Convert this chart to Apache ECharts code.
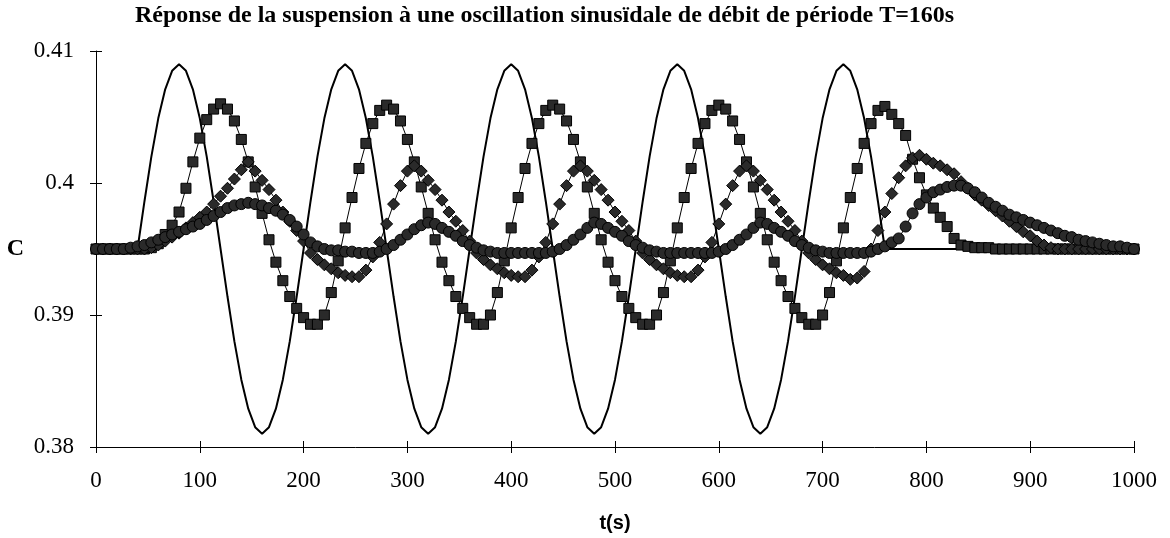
<!DOCTYPE html>
<html><head><meta charset="utf-8">
<script src="https://cdn.jsdelivr.net/npm/echarts@6/dist/echarts.min.js"></script>
<style>html,body{margin:0;padding:0;background:#fff}#c{width:1170px;height:538px}</style>
</head><body><div id="c"></div>
<script>
const chartTitle = 'Réponse de la suspension à une oscillation sinusïdale de débit de période T=160s';
const yName = 'C';
const xName = 't(s)';

// sampling times (s)
const times = [
0,6.67,13.33,20,26.67,33.33,40,46.67,53.33,60,66.67,73.33,80,86.67,93.33,
100,106.67,113.33,120,126.67,133.33,140,146.67,153.33,160,166.67,173.33,180,186.67,193.33,
200,206.67,213.33,220,226.67,233.33,240,246.67,253.33,260,266.67,273.33,280,286.67,293.33,
300,306.67,313.33,320,326.67,333.33,340,346.67,353.33,360,366.67,373.33,380,386.67,393.33,
400,406.67,413.33,420,426.67,433.33,440,446.67,453.33,460,466.67,473.33,480,486.67,493.33,
500,506.67,513.33,520,526.67,533.33,540,546.67,553.33,560,566.67,573.33,580,586.67,593.33,
600,606.67,613.33,620,626.67,633.33,640,646.67,653.33,660,666.67,673.33,680,686.67,693.33,
700,706.67,713.33,720,726.67,733.33,740,746.67,753.33,760,766.67,773.33,780,786.67,793.33,
800,806.67,813.33,820,826.67,833.33,840,846.67,853.33,860,866.67,873.33,880,886.67,893.33,
900,906.67,913.33,920,926.67,933.33,940,946.67,953.33,960,966.67,973.33,980,986.67,993.33,
1000];

// input concentration (solid line)
const inputC = [
.395,.395,.395,.395,.395,.395,.3950,.3986,.4020,.4049,.4071,.4085,.4090,.4085,.4071,
.4049,.4020,.3986,.3950,.3914,.3880,.3851,.3829,.3815,.3810,.3815,.3829,.3851,.3880,.3914,
.3950,.3986,.4020,.4049,.4071,.4085,.4090,.4085,.4071,.4049,.4020,.3986,.3950,.3914,.3880,
.3851,.3829,.3815,.3810,.3815,.3829,.3851,.3880,.3914,.3950,.3986,.4020,.4049,.4071,.4085,
.4090,.4085,.4071,.4049,.4020,.3986,.3950,.3914,.3880,.3851,.3829,.3815,.3810,.3815,.3829,
.3851,.3880,.3914,.3950,.3986,.4020,.4049,.4071,.4085,.4090,.4085,.4071,.4049,.4020,.3986,
.3950,.3914,.3880,.3851,.3829,.3815,.3810,.3815,.3829,.3851,.3880,.3914,.3950,.3986,.4020,
.4049,.4071,.4085,.4090,.4085,.4071,.4049,.4020,.3986,.3950,.395,.395,.395,.395,.395,
.395,.395,.395,.395,.395,.395,.395,.395,.395,.395,.395,.395,.395,.395,.395,
.395,.395,.395,.395,.395,.395,.395,.395,.395,.395,.395,.395,.395,.395,.395,
.395];

// response, square markers
const squaresC = [
.3950,.3950,.3950,.3950,.3950,.3950,.3950,.3950,.3951,.3954,.3961,.3968,.3978,.3996,.4016,
.4034,.4048,.4056,.4060,.4056,.4047,.4033,.4016,.3997,.3977,.3957,.3940,.3926,.3914,.3905,
.3898,.3893,.3893,.3900,.3917,.3941,.3966,.3989,.4011,.4030,.4045,.4055,.4059,.4056,.4047,
.4033,.4016,.3997,.3977,.3957,.3940,.3926,.3914,.3905,.3898,.3893,.3893,.3900,.3917,.3941,
.3966,.3989,.4011,.4030,.4045,.4055,.4059,.4056,.4047,.4033,.4016,.3997,.3977,.3957,.3940,
.3926,.3914,.3905,.3898,.3893,.3893,.3900,.3917,.3941,.3966,.3989,.4011,.4030,.4045,.4055,
.4059,.4056,.4047,.4033,.4016,.3997,.3977,.3957,.3940,.3926,.3914,.3905,.3898,.3893,.3893,
.3900,.3917,.3941,.3966,.3989,.4011,.4030,.4045,.4055,.4058,.4052,.4045,.4036,.4018,.4004,
.3991,.3981,.3974,.3967,.3958,.3953,.3952,.3951,.3951,.3951,.3950,.3950,.3950,.3950,.3950,
.3950,.3950,.3950,.3950,.3950,.3950,.3950,.3950,.3950,.3950,.3950,.3950,.3950,.3950,.3950,
.3950];

// response, diamond markers
const diamondsC = [
.3950,.3950,.3950,.3950,.3950,.3950,.3950,.3950,.3951,.3953,.3956,.3959,.3962,.3966,.3970,
.3974,.3978,.3984,.3990,.3996,.4003,.4010,.4016,.4009,.4002,.3995,.3987,.3978,.3971,.3964,
.3956,.3947,.3942,.3938,.3935,.3932,.3930,.3929,.3929,.3934,.3944,.3955,.3969,.3984,.3998,
.4009,.4013,.4009,.4002,.3995,.3987,.3978,.3971,.3964,.3956,.3947,.3942,.3938,.3935,.3932,
.3930,.3929,.3929,.3934,.3944,.3955,.3969,.3984,.3998,.4009,.4013,.4009,.4002,.3995,.3987,
.3978,.3971,.3964,.3956,.3947,.3942,.3938,.3935,.3932,.3930,.3929,.3929,.3934,.3944,.3955,
.3969,.3984,.3998,.4009,.4013,.4009,.4002,.3995,.3987,.3978,.3971,.3964,.3956,.3947,.3942,
.3938,.3935,.3932,.3930,.3927,.3928,.3933,.3950,.3964,.3978,.3992,.4004,.4013,.4019,.4021,
.4018,.4015,.4013,.4010,.4007,.4001,.3996,.3991,.3987,.3983,.3979,.3975,.3971,.3967,.3963,
.3960,.3956,.3953,.3951,.3950,.3950,.3950,.3950,.3950,.3950,.3950,.3950,.3950,.3950,.3950,
.3950];

// response, circle markers
const circlesC = [
.3950,.3950,.3950,.3950,.3950,.3951,.3952,.3953,.3955,.3957,.3959,.3961,.3963,.3965,.3967,
.3969,.3972,.3975,.3978,.3981,.3983,.3984,.3985,.3984,.3983,.3981,.3979,.3976,.3972,.3967,
.3961,.3955,.3952,.3950,.3949,.3949,.3948,.3948,.3947,.3947,.3947,.3948,.3950,.3953,.3957,
.3961,.3965,.3968,.3970,.3969,.3966,.3963,.3960,.3956,.3953,.3951,.3949,.3948,.3947,.3947,
.3947,.3947,.3947,.3947,.3947,.3947,.3948,.3950,.3953,.3957,.3961,.3966,.3970,.3969,.3966,
.3963,.3960,.3956,.3953,.3951,.3949,.3948,.3947,.3947,.3947,.3947,.3947,.3947,.3947,.3947,
.3948,.3950,.3953,.3957,.3961,.3966,.3970,.3969,.3966,.3963,.3960,.3956,.3953,.3951,.3949,
.3948,.3947,.3947,.3947,.3947,.3947,.3947,.3948,.3950,.3952,.3955,.3958,.3967,.3977,.3984,
.3989,.3993,.3995,.3997,.3998,.3998,.3996,.3993,.3989,.3985,.3982,.3979,.3976,.3974,.3972,
.3970,.3968,.3966,.3964,.3962,.3960,.3959,.3957,.3956,.3955,.3954,.3953,.3952,.3952,.3951,
.3950];

const pairs = arr => times.map((t, i) => [t, arr[i]]);
const serif = 'Liberation Serif';
const markerColor = '#2a2a2a';

const chart = echarts.init(document.getElementById('c'), null, {renderer: 'canvas'});
const yBase = {type: 'value', min: 0.38, max: 0.41, interval: 0.01, position: 'left', splitLine: {show: false}};
const xBase = {type: 'value', min: 0, max: 1000, interval: 100, position: 'bottom', splitLine: {show: false}};
chart.setOption({
  animation: false,
  backgroundColor: '#fff',
  title: {
    text: chartTitle, left: 130, top: -1,
    textStyle: {fontFamily: serif, fontWeight: 'bold', fontSize: 24, color: '#000'}
  },
  grid: {left: 96, right: 36, top: 51, bottom: 90, containLabel: false},
  xAxis: [
    Object.assign({}, xBase, {
      name: xName, nameLocation: 'middle', nameGap: 66,
      nameTextStyle: {fontFamily: 'Liberation Sans', fontWeight: 'bold', fontSize: 20, color: '#000'},
      axisLine: {show: true, lineStyle: {color: '#000', width: 1}},
      axisTick: {show: true, inside: false, length: 6, lineStyle: {color: '#000'}},
      axisLabel: {margin: 22, fontFamily: serif, fontSize: 23, color: '#000',
        formatter: v => String(v)}
    }),
    Object.assign({}, xBase, {
      axisLine: {show: false}, axisLabel: {show: false},
      axisTick: {show: true, inside: true, length: 6, lineStyle: {color: '#000'}}
    })
  ],
  yAxis: [
    Object.assign({}, yBase, {
      name: yName, nameLocation: 'middle', nameGap: 72, nameRotate: 0,
      nameTextStyle: {fontFamily: serif, fontWeight: 'bold', fontSize: 24, color: '#000'},
      axisLine: {show: true, lineStyle: {color: '#000', width: 1}},
      axisTick: {show: true, inside: false, length: 6, lineStyle: {color: '#000'}},
      axisLabel: {margin: 22, fontFamily: serif, fontSize: 23, color: '#000',
        formatter: v => String(parseFloat(v.toFixed(2)))}
    }),
    Object.assign({}, yBase, {
      axisLine: {show: false}, axisLabel: {show: false},
      axisTick: {show: true, inside: true, length: 6, lineStyle: {color: '#000'}}
    })
  ],
  series: [
    {name: 'entrée', type: 'line', data: pairs(inputC), symbol: 'none', z: 2,
     lineStyle: {color: '#000', width: 2}},
    {name: 'carrés', type: 'line', data: pairs(squaresC), symbol: 'rect', symbolSize: 10, showAllSymbol: true, z: 3,
     lineStyle: {color: '#000', width: 1},
     itemStyle: {color: markerColor, borderColor: '#000', borderWidth: 1}},
    {name: 'losanges', type: 'line', data: pairs(diamondsC), symbol: 'diamond', symbolSize: 12, showAllSymbol: true, z: 3,
     lineStyle: {color: '#000', width: 1},
     itemStyle: {color: markerColor, borderColor: '#000', borderWidth: 1}},
    {name: 'cercles', type: 'line', data: pairs(circlesC), symbol: 'circle', symbolSize: 11, showAllSymbol: true, z: 3,
     lineStyle: {color: '#000', width: 1},
     itemStyle: {color: markerColor, borderColor: '#000', borderWidth: 1}}
  ]
});
</script>
</body></html>
